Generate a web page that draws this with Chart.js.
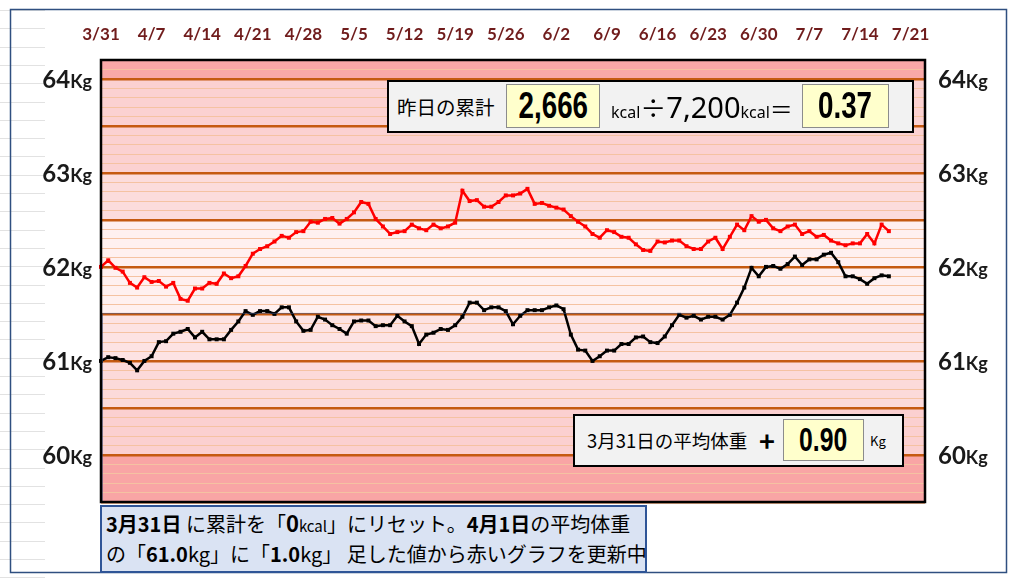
<!DOCTYPE html>
<html>
<head>
<meta charset="utf-8">
<script src="https://cdn.jsdelivr.net/npm/chart.js@4.4.1/dist/chart.umd.min.js"></script>
<style>
body { margin:0; background:#fff; }
#wrap { position:relative; width:1024px; height:584px; overflow:hidden; font-family:"Noto Sans CJK JP", sans-serif; color:#000; }
#WeightChart { position:absolute; left:0; top:0; }
.box { position:absolute; box-sizing:border-box; }
.gray { background:#f2f2f2; border:2px solid #000; }
.t { position:absolute; top:0; white-space:nowrap; }
.yel { position:absolute; box-sizing:border-box; background:#ffffcc; border:1px solid #8c8c8c; text-align:center;
       font-family:"Liberation Sans",Arial,sans-serif; font-weight:bold; }
.yel span { display:inline-block; transform:scaleX(0.75); }
.note { background:#dae3f3; border:2px solid #2f5597; }
.line { position:absolute; left:4px; height:31px; line-height:31px; font-size:20px; white-space:nowrap; }
.b { font-weight:bold; }
</style>
</head>
<body>
<div id="wrap">
  <canvas id="WeightChart" width="1024" height="584"></canvas>

  <div class="box gray" style="left:387px;top:80px;width:527px;height:53px;">
    <span class="t" style="left:8px;line-height:49px;font-size:19.5px;">昨日の累計</span>
    <div class="yel" style="left:117px;top:2px;width:94px;height:44px;line-height:42px;font-size:37px;"><span>2,666</span></div>
    <span class="t" style="left:222px;line-height:49px;font-family:'Noto Sans',sans-serif;">
      <span style="font-size:16px;">kcal</span><span style="font-size:26px;font-family:'Noto Sans CJK JP';">÷</span><span style="font-size:29px;">7,200</span><span style="font-size:16px;">kcal</span><span style="font-size:23px;font-family:'Noto Sans CJK JP';">＝</span>
    </span>
    <div class="yel" style="left:413px;top:2px;width:87px;height:44px;line-height:42px;font-size:37px;"><span>0.37</span></div>
  </div>

  <div class="box gray" style="left:573px;top:414px;width:331px;height:53px;">
    <span class="t" style="left:12px;line-height:49px;font-size:18.5px;">3月31日の平均体重</span>
    <span class="t b" style="left:184px;line-height:49px;font-size:27px;">+</span>
    <div class="yel" style="left:208px;top:3px;width:81px;height:42px;line-height:40px;font-size:33px;"><span>0.90</span></div>
    <span class="t" style="left:295px;line-height:49px;font-size:13px;">Kg</span>
  </div>

  <div class="box note" style="left:100px;top:505px;width:547px;height:68px;">
    <div class="line" style="top:0;"><span class="b">3月31日</span> に累計を「<span class="b" style="font-size:22px;">0</span><span style="font-size:15px;">kcal</span>」にリセット。<span class="b">4月1日</span>の平均体重</div>
    <div class="line" style="top:31px;">の「<span class="b">61.0</span>kg」に「<span class="b">1.0</span>kg」 足した値から赤いグラフを更新中</div>
  </div>
</div>

<script>
// data
const weekLabels = ['3/31','4/7','4/14','4/21','4/28','5/5','5/12','5/19','5/26','6/2','6/9','6/16','6/23','6/30','7/7','7/14','7/21'];
const yLabelValues = [60, 61, 62, 63, 64];

const redWeight = [
  62.00, 62.07, 61.99, 61.95, 61.83, 61.78, 61.89, 61.84, 61.85, 61.79,
  61.83, 61.66, 61.64, 61.77, 61.77, 61.83, 61.82, 61.93, 61.88, 61.90,
  62.01, 62.14, 62.19, 62.22, 62.27, 62.33, 62.31, 62.37, 62.38, 62.48,
  62.47, 62.51, 62.52, 62.46, 62.51, 62.58, 62.69, 62.67, 62.51, 62.43,
  62.35, 62.37, 62.38, 62.45, 62.41, 62.39, 62.45, 62.41, 62.43, 62.47,
  62.81, 62.70, 62.71, 62.64, 62.64, 62.69, 62.76, 62.76, 62.78, 62.83,
  62.67, 62.68, 62.65, 62.63, 62.61, 62.54, 62.48, 62.43, 62.35, 62.31,
  62.39, 62.37, 62.32, 62.31, 62.24, 62.18, 62.17, 62.27, 62.26, 62.28,
  62.28, 62.22, 62.19, 62.19, 62.27, 62.31, 62.19, 62.32, 62.45, 62.39,
  62.54, 62.48, 62.50, 62.41, 62.38, 62.43, 62.45, 62.35, 62.38, 62.32,
  62.34, 62.28, 62.25, 62.23, 62.25, 62.25, 62.35, 62.25, 62.45, 62.38
];

const blackWeight = [
  61.00, 61.04, 61.03, 61.01, 60.98, 60.90, 61.00, 61.05, 61.20, 61.21,
  61.29, 61.31, 61.34, 61.25, 61.31, 61.23, 61.23, 61.23, 61.33, 61.42,
  61.53, 61.49, 61.53, 61.53, 61.50, 61.57, 61.57, 61.42, 61.32, 61.33,
  61.47, 61.44, 61.38, 61.34, 61.29, 61.42, 61.43, 61.43, 61.37, 61.38,
  61.38, 61.48, 61.42, 61.37, 61.18, 61.28, 61.30, 61.34, 61.33, 61.38,
  61.47, 61.62, 61.62, 61.54, 61.57, 61.57, 61.53, 61.39, 61.48, 61.54,
  61.54, 61.54, 61.57, 61.59, 61.55, 61.28, 61.12, 61.11, 61.00, 61.05,
  61.11, 61.11, 61.18, 61.18, 61.25, 61.26, 61.20, 61.19, 61.26, 61.38,
  61.49, 61.46, 61.48, 61.44, 61.47, 61.47, 61.44, 61.49, 61.62, 61.78,
  61.99, 61.90, 62.00, 62.01, 61.98, 62.03, 62.11, 62.02, 62.08, 62.08,
  62.13, 62.15, 62.05, 61.90, 61.90, 61.87, 61.82, 61.88, 61.91, 61.90
];

// one category per day, 3/31 .. 7/23
var days = [];
var d = new Date(2021, 2, 31);
for (var i = 0; i < 115; i++) {
  days.push((d.getMonth() + 1) + '/' + d.getDate());
  d.setDate(d.getDate() + 1);
}

// background bands (kg from, kg to, colour)
const bandColors = [
  [64.2, 64.0, '#f9a8a8'],
  [64.0, 63.0, '#fbd1d1'],
  [63.0, 62.5, '#fcdcdc'],
  [62.5, 61.5, '#fff0f0'],
  [61.5, 61.0, '#fde3e3'],
  [61.0, 60.5, '#fcdada'],
  [60.5, 60.0, '#fbd0d0'],
  [60.0, 59.5, '#f9a5a5']
];

function isMajor(v) {
  return Math.abs(v * 2 - Math.round(v * 2)) < 1e-6;
}

const bandPlugin = {
  id: 'bands',
  beforeDraw(chart) {
    const ctx = chart.ctx, a = chart.chartArea, y = chart.scales.y;
    ctx.save();
    // sheet cell lines on the left
    ctx.strokeStyle = '#e2e2e2';
    ctx.lineWidth = 1;
    for (var k = 0; k < 32; k++) {
      var ly = Math.round(10 + k * 18.3) + 0.5;
      ctx.beginPath(); ctx.moveTo(0, ly); ctx.lineTo(45, ly); ctx.stroke();
    }
    // outer frame
    ctx.strokeStyle = '#2f4f80';
    ctx.lineWidth = 1.5;
    ctx.strokeRect(10.5, 9.5, 996, 563);
    bandColors.forEach(function (b) {
      var top = y.getPixelForValue(b[0]), bot = y.getPixelForValue(b[1]);
      ctx.fillStyle = b[2];
      ctx.fillRect(a.left, top, a.width, bot - top);
    });
    ctx.restore();
  }
};

function drawKg(ctx, num, x, py, align) {
  ctx.font = 'bold 24px Lato';
  var nw = ctx.measureText(num).width;
  ctx.font = 'bold 18px Lato';
  var kw = ctx.measureText('Kg').width;
  var sx = align === 'right' ? x - nw - kw : x;
  ctx.textAlign = 'left';
  ctx.textBaseline = 'alphabetic';
  ctx.fillStyle = '#1a1a1a';
  ctx.font = 'bold 24px Lato';
  ctx.fillText(num, sx, py + 9);
  ctx.font = 'bold 18px Lato';
  ctx.fillText('Kg', sx + nw, py + 9);
}

const framePlugin = {
  id: 'frame',
  afterDraw(chart) {
    const ctx = chart.ctx, a = chart.chartArea, y = chart.scales.y;
    ctx.save();
    // thin blue edge of the lower panel
    var p = y.getPixelForValue(61.5);
    ctx.strokeStyle = 'rgba(70,90,140,0.55)';
    ctx.lineWidth = 1;
    ctx.beginPath();
    ctx.moveTo(a.right, p - 0.5); ctx.lineTo(a.left + 1.5, p - 0.5); ctx.lineTo(a.left + 1.5, a.bottom);
    ctx.stroke();
    // plot border
    ctx.strokeStyle = '#000';
    ctx.lineWidth = 2.5;
    ctx.strokeRect(a.left, a.top, a.width, a.height);
    yLabelValues.forEach(function (v) {
      var py = y.getPixelForValue(v);
      drawKg(ctx, String(v), a.left - 9, py, 'right');
      drawKg(ctx, String(v), a.right + 13, py, 'left');
    });
    ctx.restore();
  }
};

const config = {
  type: 'line',
  data: {
    labels: days,
    datasets: [
      { label: '赤いグラフ', data: redWeight, borderColor: '#ff0000', backgroundColor: '#ff0000',
        borderWidth: 2.5, pointStyle: 'rect', pointRadius: 2.8, pointBorderWidth: 0, tension: 0 },
      { label: '平均体重', data: blackWeight, borderColor: '#000000', backgroundColor: '#000000',
        borderWidth: 2.5, pointStyle: 'rect', pointRadius: 2.8, pointBorderWidth: 0, tension: 0 }
    ]
  },
  options: {
    responsive: false,
    animation: false,
    devicePixelRatio: 1,
    layout: { padding: { left: 101, right: 99, top: 25, bottom: 82 } },
    plugins: { legend: { display: false }, tooltip: { enabled: false } },
    scales: {
      x: {
        position: 'top',
        offset: false,
        grid: { display: false, drawTicks: false },
        border: { display: false },
        afterBuildTicks: function (s) { s.ticks = s.ticks.filter(function (t) { return t.value % 7 === 0; }); },
        afterFit: function (s) { s.height = 35; },
        ticks: {
          autoSkip: false, maxRotation: 0, padding: 15, color: '#701c1c',
          font: { family: 'Lato', size: 17, weight: 'bold' },
          callback: function (v) { return weekLabels[v / 7] || ''; }
        }
      },
      y: {
        min: 59.5, max: 64.2,
        border: { display: false },
        afterFit: function (s) { s.width = 0; },
        grid: {
          drawTicks: false,
          color: function (c) { return isMajor(c.tick.value) ? '#c55a11' : '#f5c2a2'; },
          lineWidth: function (c) { return isMajor(c.tick.value) ? 2.5 : 1; }
        },
        ticks: { display: false, stepSize: 0.1 }
      }
    }
  },
  plugins: [bandPlugin, framePlugin]
};

const myChart = new Chart(document.getElementById('WeightChart'), config);
</script>
</body>
</html>
